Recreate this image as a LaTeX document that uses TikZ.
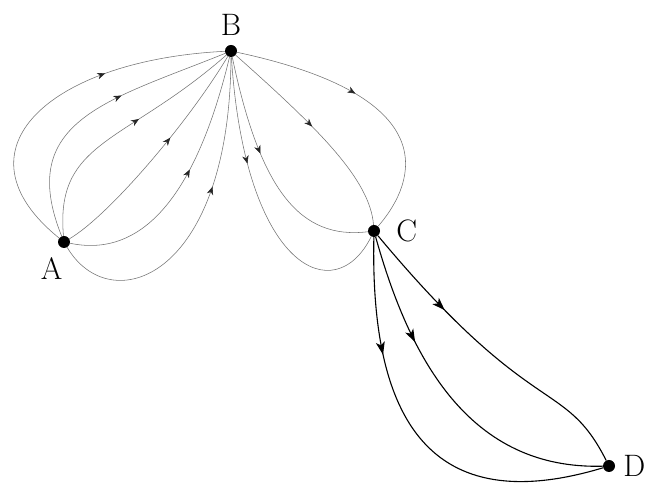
\documentclass[tikz,border=0pt]{standalone}
\usepackage{tikz}
\usetikzlibrary{arrows.meta,decorations.markings,positioning}
\tikzstyle{dot}=[circle,fill=black,inner sep=0pt,minimum size=12pt]
\tikzstyle{lbl}=[inner sep=0pt,font=\fontsize{31}{34}\selectfont]
\tikzstyle{thinflow}=[draw=black!55,line width=0.55pt,>={Stealth[length=8pt,width=6.5pt,inset=2.5pt,color=black!85]}]
\tikzstyle{thickflow}=[draw=black,line width=1.1pt,>={Stealth[length=13pt,width=9pt,inset=3.5pt]}]
\tikzset{flowmark/.style={postaction={decorate},decoration={markings,mark=at position #1 with {\arrow{>}}}}}

\begin{document}
\begin{tikzpicture}[x=1pt,y=1pt]
  \useasboundingbox (0,0) rectangle (649,484);
  \node[dot](a) at (64,242){};
  \node[dot](b) at (231,433){};
  \node[dot](c) at (374,253){};
  \node[dot](d) at (609,18){};

  \node[lbl,below left=11pt and -3pt of a](la){A};
  \node[lbl,above=9pt of b](lb){B};
  \node[lbl,right=16pt of c](lc){C};
  \node[lbl,right=8pt of d](ld){D};

  % A to B
  \draw[thinflow,flowmark=0.65] (a) .. controls (-50,334) and (50,424) .. (b);
  \draw[thinflow,flowmark=0.61] (a) .. controls (15,364) and (110,384) .. (b);
  \draw[thinflow,flowmark=0.58] (a) .. controls (55,344) and (125,340) .. (b);
  \draw[thinflow,flowmark=0.59] (a) .. controls (110,269) and (190,364) .. (b);
  \draw[thinflow,flowmark=0.56] (a) .. controls (150,224) and (200,304) .. (b);
  \draw[thinflow,flowmark=0.61] (a) .. controls (110,164) and (230,204) .. (b);

  % B to C
  \draw[thinflow,flowmark=0.44] (b) .. controls (460,384) and (408,292) .. (c);
  \draw[thinflow,flowmark=0.47] (b) .. controls (320,354) and (370,304) .. (c);
  \draw[thinflow,flowmark=0.41] (b) .. controls (260,294) and (300,244) .. (c);
  \draw[thinflow,flowmark=0.35] (b) .. controls (245,214) and (335,174) .. (c);

  % C to D
  \draw[thickflow,flowmark=0.31] (c) .. controls (534,61) and (564,107) .. (d);
  \draw[thickflow,flowmark=0.32] (c) .. controls (410,124) and (470,14) .. (d);
  \draw[thickflow,flowmark=0.29] (c) .. controls (370,64) and (430,-36) .. (d);
\end{tikzpicture}
\end{document}
